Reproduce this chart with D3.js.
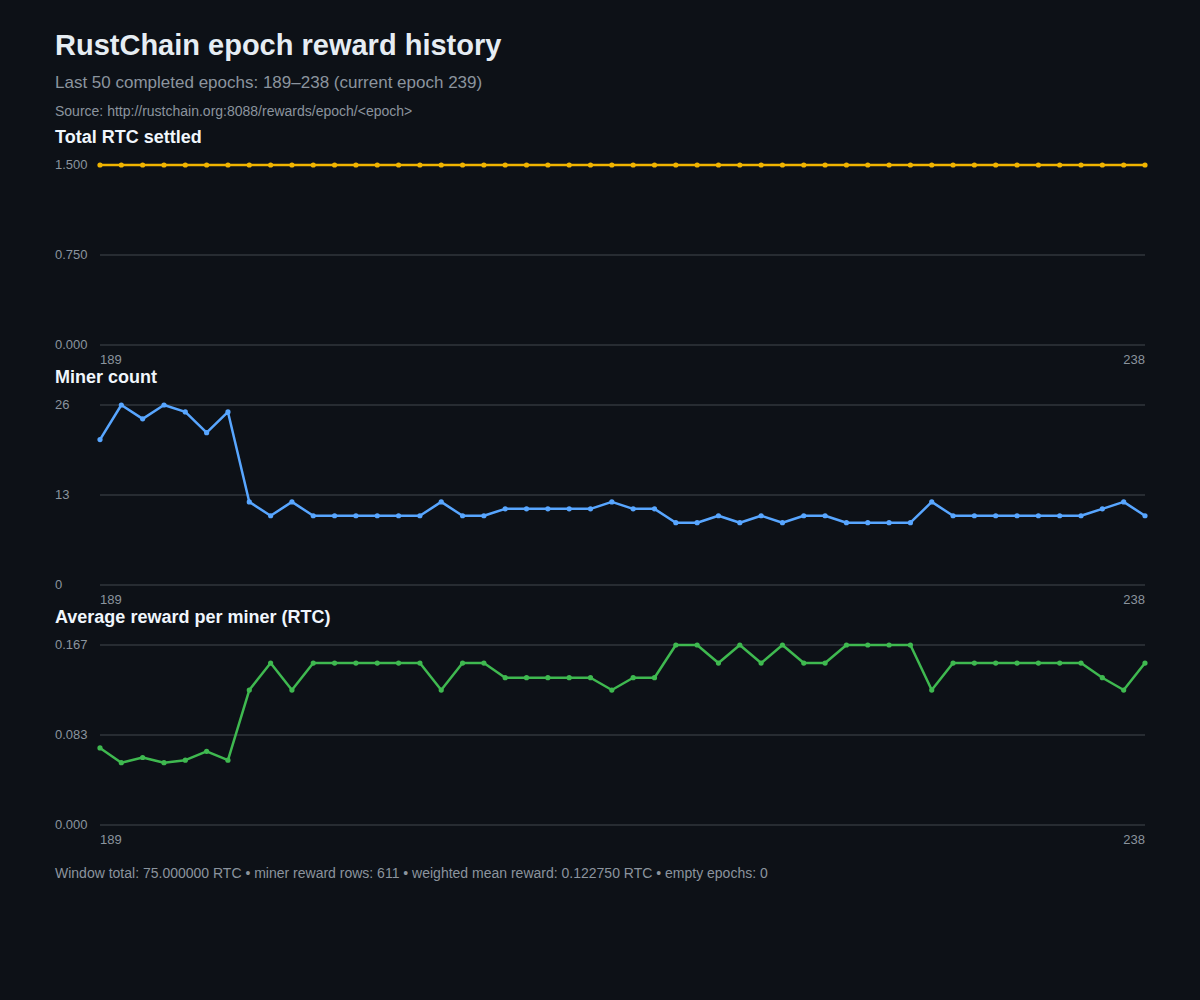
<!DOCTYPE html>
<html><head><meta charset="utf-8">
<script src="https://cdn.jsdelivr.net/npm/d3@7"></script>
<style>body{margin:0;background:#0d1117;}svg{display:block;font-family:"Liberation Sans",Arial,sans-serif;}</style>
</head><body><svg id="c" width="1200" height="1000"></svg>
<script>
const epochs = d3.range(189, 239);
const totalRTC = [1.5,1.5,1.5,1.5,1.5,1.5,1.5,1.5,1.5,1.5,1.5,1.5,1.5,1.5,1.5,1.5,1.5,1.5,1.5,1.5,1.5,1.5,1.5,1.5,1.5,1.5,1.5,1.5,1.5,1.5,1.5,1.5,1.5,1.5,1.5,1.5,1.5,1.5,1.5,1.5,1.5,1.5,1.5,1.5,1.5,1.5,1.5,1.5,1.5,1.5];
const minerCount = [21,26,24,26,25,22,25,12,10,12,10,10,10,10,10,10,12,10,10,11,11,11,11,11,12,11,11,9,9,10,9,10,9,10,10,9,9,9,9,12,10,10,10,10,10,10,10,11,12,10];
const avgReward = [0.0714,0.0577,0.0625,0.0577,0.06,0.0682,0.06,0.125,0.15,0.125,0.15,0.15,0.15,0.15,0.15,0.15,0.125,0.15,0.15,0.1364,0.1364,0.1364,0.1364,0.1364,0.125,0.1364,0.1364,0.1667,0.1667,0.15,0.1667,0.15,0.1667,0.15,0.15,0.1667,0.1667,0.1667,0.1667,0.125,0.15,0.15,0.15,0.15,0.15,0.15,0.15,0.1364,0.125,0.15];
const panels = [
 {title:"Total RTC settled", data:totalRTC, max:1.5, ticks:[0,0.75,1.5], fmt:d3.format(".3f"), color:"#f0b400", top:165},
 {title:"Miner count", data:minerCount, max:26, ticks:[0,13,26], fmt:d3.format("d"), color:"#58a6ff", top:405},
 {title:"Average reward per miner (RTC)", data:avgReward, max:0.1667, ticks:[0,0.0833,0.1667], fmt:d3.format(".3f"), color:"#3fb950", top:645}
];
const svg = d3.select("#c");
svg.append("rect").attr("width",1200).attr("height",1000).attr("fill","#0d1117");
svg.append("text").attr("x",55).attr("y",55).attr("fill","#e6edf3").attr("font-size",29).attr("font-weight","bold").text("RustChain epoch reward history");
svg.append("text").attr("x",55).attr("y",88).attr("fill","#8b949e").attr("font-size",17).text("Last 50 completed epochs: 189–238 (current epoch 239)");
svg.append("text").attr("x",55).attr("y",116).attr("fill","#8b949e").attr("font-size",14).text("Source: http://rustchain.org:8088/rewards/epoch/<epoch>");
const x = d3.scaleLinear().domain([189,238]).range([100,1145]);
panels.forEach(p=>{
  const y = d3.scaleLinear().domain([0,p.max]).range([p.top+180,p.top]);
  const g = svg.append("g");
  g.append("text").attr("x",55).attr("y",p.top-22).attr("fill","#f0f6fc").attr("font-size",18).attr("font-weight","bold").text(p.title);
  p.ticks.forEach(t=>{
    g.append("line").attr("x1",100).attr("x2",1145).attr("y1",y(t)).attr("y2",y(t)).attr("stroke","#30363d").attr("stroke-width",1.5);
    g.append("text").attr("x",55).attr("y",y(t)+4).attr("fill","#8b949e").attr("font-size",13).text(p.fmt(t));
  });
  g.append("text").attr("x",100).attr("y",p.top+199).attr("fill","#8b949e").attr("font-size",13).text(epochs[0]);
  g.append("text").attr("x",1145).attr("y",p.top+199).attr("text-anchor","end").attr("fill","#8b949e").attr("font-size",13).text(epochs[epochs.length-1]);
  const line = d3.line().x((d,i)=>x(epochs[i])).y(d=>y(d));
  g.append("path").datum(p.data).attr("d",line).attr("fill","none").attr("stroke",p.color).attr("stroke-width",2.5).attr("stroke-linejoin","round");
  g.selectAll("circle").data(p.data).join("circle").attr("cx",(d,i)=>x(epochs[i])).attr("cy",d=>y(d)).attr("r",2.6).attr("fill",p.color);
});
svg.append("text").attr("x",55).attr("y",878).attr("fill","#8b949e").attr("font-size",14).text("Window total: 75.000000 RTC • miner reward rows: 611 • weighted mean reward: 0.122750 RTC • empty epochs: 0");
</script></body></html>
